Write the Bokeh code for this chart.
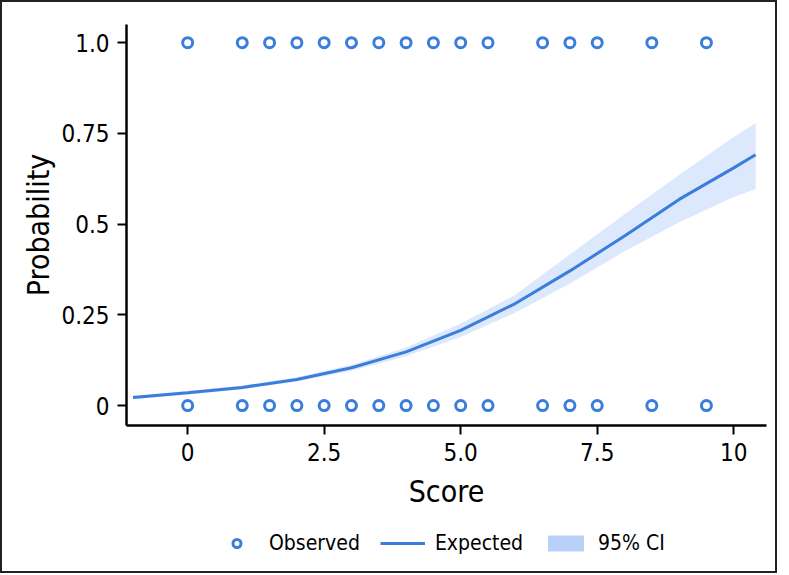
from bokeh.plotting import figure
from bokeh.models import Legend, LegendItem, FixedTicker
from bokeh.layouts import column
from bokeh.embed import file_html
from bokeh.resources import INLINE

# Observed outcomes (score, 0/1)
obs_scores = [0, 1, 1.5, 2, 2.5, 3, 3.5, 4, 4.5, 5, 5.5, 6.5, 7, 7.5, 8.5, 9.5]
obs_x = obs_scores + obs_scores
obs_y = [1.0] * len(obs_scores) + [0.0] * len(obs_scores)

# Expected probability curve and 95% CI
curve_x = [-1, 0, 1, 2, 3, 4, 5, 6, 7, 8, 9, 10, 10.4]
expected = [0.022, 0.035, 0.050, 0.072, 0.104, 0.148, 0.207, 0.281, 0.371, 0.467, 0.568, 0.655, 0.691]
ci_upper = [0.027, 0.040, 0.055, 0.078, 0.112, 0.160, 0.226, 0.305, 0.416, 0.527, 0.635, 0.740, 0.778]
ci_lower = [0.018, 0.030, 0.045, 0.066, 0.096, 0.136, 0.189, 0.256, 0.336, 0.425, 0.505, 0.575, 0.597]

x_ticks = [0, 2.5, 5, 7.5, 10]
x_tick_labels = ["0", "2.5", "5.0", "7.5", "10"]
y_ticks = [0, 0.25, 0.5, 0.75, 1.0]
y_tick_labels = ["0", "0.25", "0.5", "0.75", "1.0"]

FONT = "DejaVu Sans Condensed"
BLUE = "#3b7ddd"
CI_COLOR = "#b9d1f8"

p = figure(width=773, height=522, output_backend="svg", toolbar_location=None,
           x_range=(-1.12, 10.6), y_range=(-0.055, 1.05),
           min_border_left=124, min_border_right=9, min_border_top=22, min_border_bottom=99,
           x_axis_label="Score", y_axis_label="Probability")
p.outline_line_color = None
p.grid.visible = False

p.varea(x=curve_x, y1=ci_lower, y2=ci_upper, fill_color=CI_COLOR, fill_alpha=0.5)
p.line(curve_x, expected, line_color=BLUE, line_width=3)
p.scatter(obs_x, obs_y, size=10, marker="circle", line_color=BLUE, line_width=3, fill_color="white")

for ax in (p.xaxis[0], p.yaxis[0]):
    ax.axis_line_width = 2.5
    ax.axis_line_color = "black"
    ax.major_tick_line_width = 2
    ax.major_tick_out = 9
    ax.major_tick_in = 0
    ax.minor_tick_line_color = None
    ax.major_label_text_font = FONT
    ax.major_label_text_font_size = "24px"
    ax.major_label_text_color = "black"
    ax.axis_label_text_font = FONT
    ax.axis_label_text_font_size = "30px"
    ax.axis_label_text_font_style = "normal"
    ax.axis_label_text_color = "black"

p.xaxis.ticker = FixedTicker(ticks=x_ticks)
p.xaxis.major_label_overrides = {t: l for t, l in zip(x_ticks, x_tick_labels)}
p.yaxis.ticker = FixedTicker(ticks=y_ticks)
p.yaxis.major_label_overrides = {t: l for t, l in zip(y_ticks, y_tick_labels)}
p.xaxis.major_label_standoff = 8
p.yaxis.major_label_standoff = 8
p.xaxis.axis_label_standoff = 10
p.yaxis.axis_label_standoff = 2

# Legend strip below the chart (its key glyphs use the same data, kept out of view)
lf = figure(width=773, height=47, output_backend="svg", toolbar_location=None,
            x_range=(100, 101), y_range=(100, 101), x_axis_type=None, y_axis_type=None,
            min_border=0)
lf.outline_line_color = None
lf.grid.visible = False
k_band = lf.varea(x=curve_x, y1=ci_lower, y2=ci_upper, fill_color=CI_COLOR, fill_alpha=1.0)
k_line = lf.line(curve_x, expected, line_color=BLUE, line_width=3)
k_pts = lf.scatter(obs_x, obs_y, size=10, marker="circle", line_color=BLUE, line_width=3, fill_color="white")

legend = Legend(items=[LegendItem(label="Observed", renderers=[k_pts]),
                       LegendItem(label="Expected", renderers=[k_line]),
                       LegendItem(label="95% CI", renderers=[k_band])],
                orientation="horizontal", location=(88, 16),
                label_text_font=FONT, label_text_font_size="21px", label_text_color="black",
                glyph_width=45, glyph_height=20, spacing=20, label_standoff=10,
                border_line_color=None, background_fill_alpha=0,
                margin=0, padding=4)
lf.add_layout(legend, "center")

layout = column(p, lf, spacing=0)
layout.styles = {"border": "2px solid #222"}

open("out.html", "w").write(file_html(layout, INLINE))
